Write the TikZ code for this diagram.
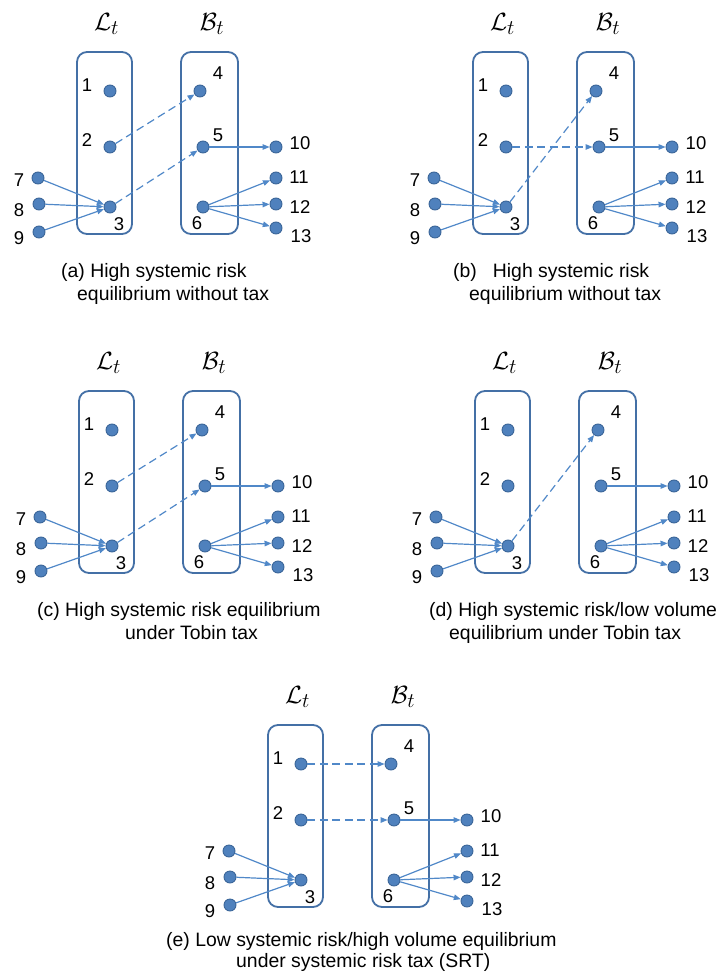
\documentclass[tikz,border=0pt]{standalone}
\usepackage{fontspec}
\setmainfont{Liberation Sans}
\usetikzlibrary{arrows.meta}
\definecolor{dotfill}{HTML}{4F81BD}
\definecolor{dotedge}{HTML}{3B6699}
\definecolor{edgecol}{HTML}{5088C8}
\definecolor{boxcol}{HTML}{4470A6}
\tikzset{
  dot/.style={circle, fill=dotfill, draw=dotedge, line width=0.9pt, minimum size=12pt, inner sep=0pt},
  grp/.style={draw=boxcol, line width=1.8pt, rounded corners=10pt, inner sep=0pt, minimum height=182pt},
  lbl/.style={font=\fontsize{18.5}{20}\selectfont, inner sep=0pt},
  captxt/.style={font=\fontsize{19.4}{22}\selectfont, inner sep=0pt, anchor=base west},
  hdr/.style={inner sep=0pt, anchor=base, font=\fontsize{30}{34}\selectfont},
  link/.style={draw=edgecol, line width=1.2pt, -{Triangle[length=7pt,width=5.5pt]}},
  dlink/.style={link, dash pattern=on 8pt off 4.5pt},
}
\newcommand{\drawpanel}[3]{%
\begin{scope}[shift={(#2,#3)}]
  \node[hdr] (#1hL) at (106.5,30.5) {$\mathcal{L}_t$};
  \node[hdr] (#1hB) at (212,30.5) {$\mathcal{B}_t$};
  \node[grp, minimum width=55pt] (#1gL) at (104.5,143) {};
  \node[grp, minimum width=57pt] (#1gB) at (209.5,143) {};
  \node[dot] (#1n1) at (110,91) {};
  \node[dot] (#1n2) at (110,147) {};
  \node[dot] (#1n3) at (110,207) {};
  \node[dot] (#1n4) at (200,91) {};
  \node[dot] (#1n5) at (203,147) {};
  \node[dot] (#1n6) at (203,207) {};
  \node[dot] (#1n7) at (38,178) {};
  \node[dot] (#1n8) at (39,204) {};
  \node[dot] (#1n9) at (39,232) {};
  \node[dot] (#1n10) at (276,147) {};
  \node[dot] (#1n11) at (276,178) {};
  \node[dot] (#1n12) at (276,204) {};
  \node[dot] (#1n13) at (276,228) {};
  \node[lbl] (#1t1) at (87,85) {1};
  \node[lbl] (#1t2) at (87,140) {2};
  \node[lbl] (#1t3) at (119,224) {3};
  \node[lbl] (#1t4) at (218,73) {4};
  \node[lbl] (#1t5) at (218,135) {5};
  \node[lbl] (#1t6) at (197,223) {6};
  \node[lbl] (#1t7) at (19,180) {7};
  \node[lbl] (#1t8) at (19,210) {8};
  \node[lbl] (#1t9) at (19,238) {9};
  \node[lbl] (#1t10) at (300,143) {10};
  \node[lbl] (#1t11) at (299,177) {11};
  \node[lbl] (#1t12) at (300,207) {12};
  \node[lbl] (#1t13) at (301,236) {13};
  \draw[link] (#1n5) -- (#1n10);
  \draw[link] (#1n6) -- (#1n11);
  \draw[link] (#1n6) -- (#1n12);
  \draw[link] (#1n6) -- (#1n13);
  \draw[link] (#1n7) -- (#1n3);
  \draw[link] (#1n8) -- (#1n3);
  \draw[link] (#1n9) -- (#1n3);
\end{scope}}
\begin{document}
\begin{tikzpicture}[x=1pt,y=-1pt]
\useasboundingbox (0,0) rectangle (719,976);
% (a)
\drawpanel{a}{0}{0}
\draw[dlink] (an2) -- (an4);
\draw[dlink] (an3) -- (an5);
\node[captxt] (capa1) at (61,277) {(a) High systemic risk};
\node[captxt] (capa2) at (77,300) {equilibrium without tax};
% (b)
\drawpanel{b}{396}{0}
\draw[dlink] (bn2) -- (bn5);
\draw[dlink] (bn3) -- (bn4);
\node[captxt] (capb1) at (453,277) {(b)\hspace{16pt}High systemic risk};
\node[captxt] (capb2) at (469,300) {equilibrium without tax};
% (c)
\drawpanel{c}{2}{339}
\draw[dlink] (cn2) -- (cn4);
\draw[dlink] (cn3) -- (cn5);
\node[captxt] (capc1) at (37,616) {(c) High systemic risk equilibrium};
\node[captxt] (capc2) at (125,639) {under Tobin tax};
% (d)
\drawpanel{d}{398}{339}
\draw[dlink] (dn3) -- (dn4);
\node[captxt] (capd1) at (429,616) {(d) High systemic risk/low volume};
\node[captxt] (capd2) at (449,639) {equilibrium under Tobin tax};
% (e)
\drawpanel{e}{191}{673}
\draw[dlink] (en1) -- (en4);
\draw[dlink] (en2) -- (en5);
\node[captxt] (cape1) at (166,946) {(e) Low systemic risk/high volume equilibrium};
\node[captxt] (cape2) at (236,967) {under systemic risk tax (SRT)};
\end{tikzpicture}
\end{document}
